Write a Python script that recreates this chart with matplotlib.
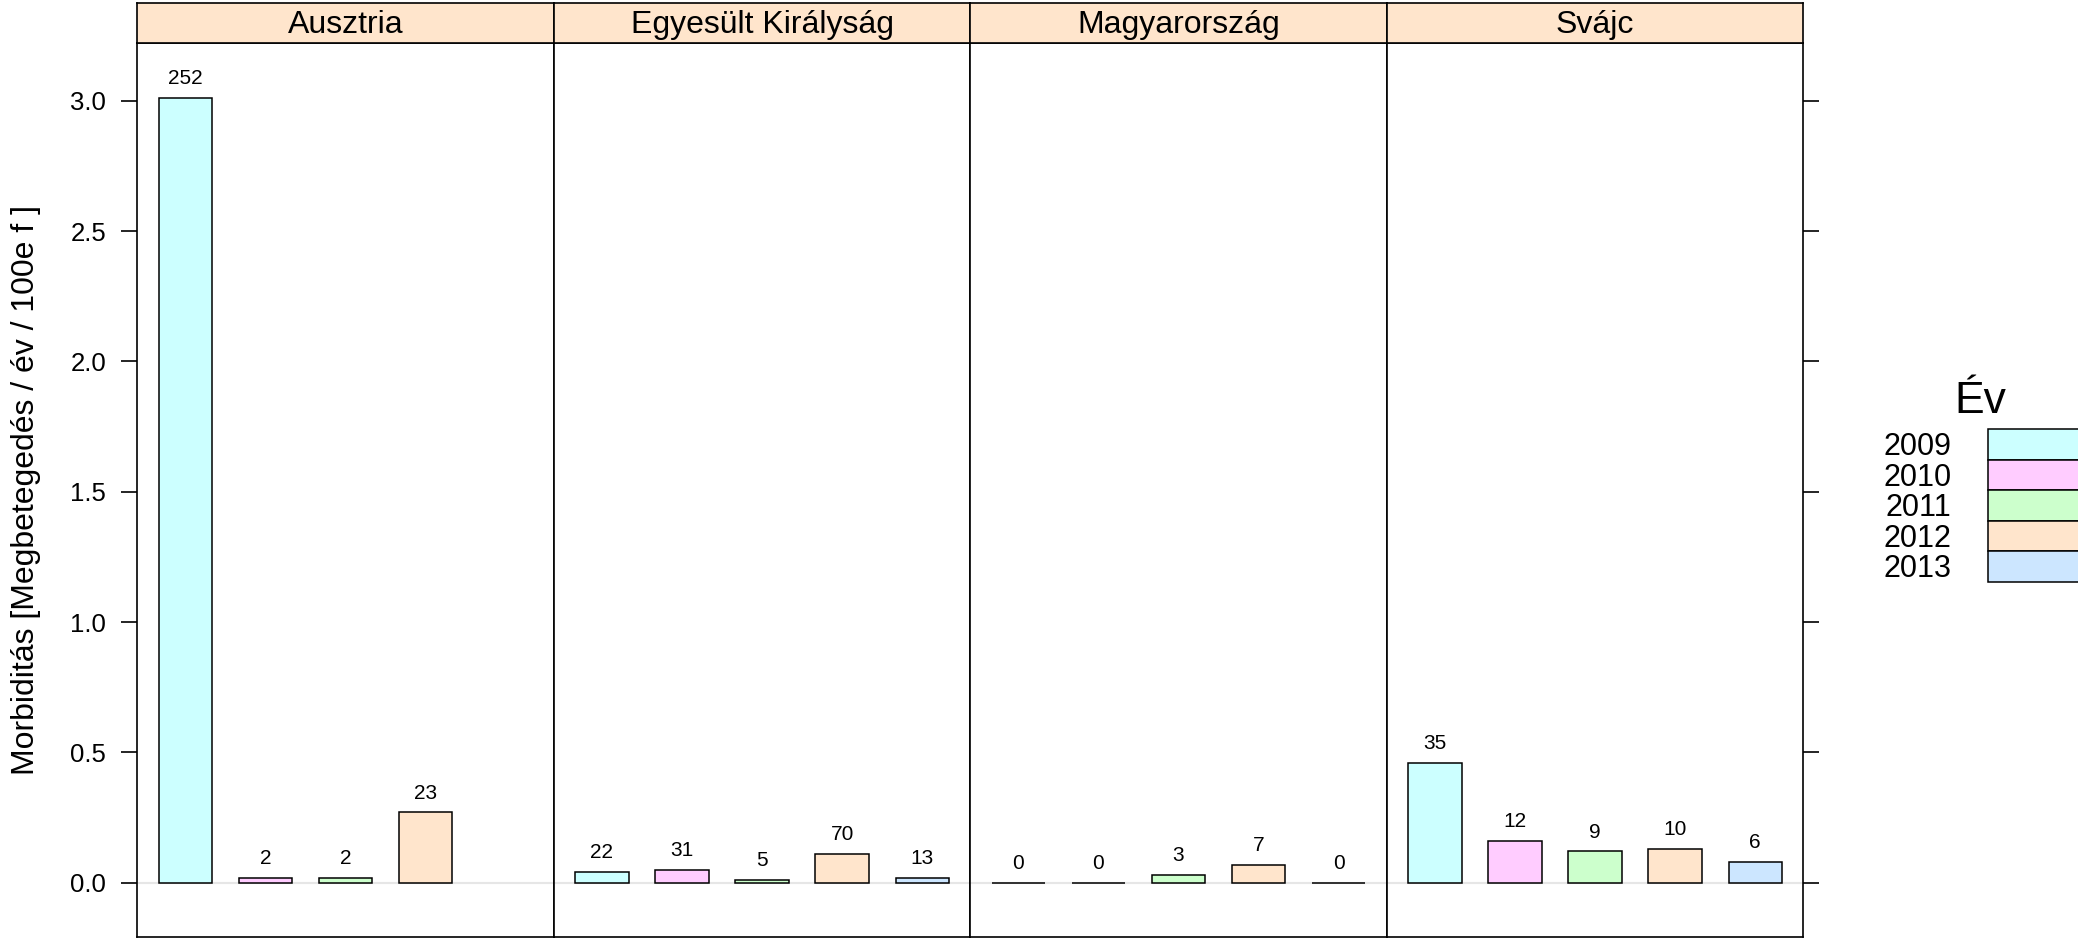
import numpy as np
import matplotlib
matplotlib.use("Agg")
import matplotlib.pyplot as plt
from matplotlib.patches import Rectangle

plt.rcParams['font.family'] = ['Liberation Sans', 'DejaVu Sans']

# adatok
countries = ["Ausztria", "Egyesült Királyság", "Magyarország", "Svájc"]
years = ["2009", "2010", "2011", "2012", "2013"]
morbidity = {
    "Ausztria":           [3.01, 0.02, 0.02, 0.27, np.nan],
    "Egyesült Királyság": [0.04, 0.05, 0.01, 0.11, 0.02],
    "Magyarország":       [0.00, 0.00, 0.03, 0.07, 0.00],
    "Svájc":              [0.46, 0.16, 0.12, 0.13, 0.08],
}
cases = {
    "Ausztria":           [252, 2, 2, 23, None],
    "Egyesült Királyság": [22, 31, 5, 70, 13],
    "Magyarország":       [0, 0, 3, 7, 0],
    "Svájc":              [35, 12, 9, 10, 6],
}
year_colors = ["#CCFFFF", "#FFCCFF", "#CCFFCC", "#FFE5CC", "#CCE6FF"]
strip_color = "#FFE5CC"
ylabel = "Morbiditás [Megbetegedés / év / 100e f ]"

W, H = 2078, 938
fig = plt.figure(figsize=(W / 100, H / 100), dpi=100)

left_px, panel_w = 137.3, 416.5
top_px, bottom_px, strip_top = 42.7, 937.0, 3.3
ylim = (-0.208, 3.2225)
x = np.arange(1, len(years) + 1)

for i, country in enumerate(countries):
    x0 = (left_px + i * panel_w) / W
    ax = fig.add_axes([x0, 1 - bottom_px / H, panel_w / W, (bottom_px - top_px) / H])
    ax.axhline(0, color="#E6E6E6", lw=1.5, zorder=0)
    vals = np.array(morbidity[country], dtype=float)
    ok = ~np.isnan(vals)
    ax.bar(x[ok], vals[ok], width=2 / 3, color=np.array(year_colors)[ok],
           edgecolor="black", linewidth=1.1, zorder=2)
    for xi, v, n in zip(x, vals, cases[country]):
        if n is None:
            continue
        ax.annotate(str(n), (xi, v), xytext=(0, 10), textcoords="offset points",
                    ha="center", va="baseline", fontsize=15)
    ax.set_xlim(0.4, 5.6)
    ax.set_ylim(*ylim)
    ax.set_xticks([])
    ax.set_yticks([0, 0.5, 1.0, 1.5, 2.0, 2.5, 3.0])
    ax.tick_params(axis="y", direction="out", length=11.5, width=1.2, pad=11,
                   labelsize=18.5, left=(i == 0), labelleft=(i == 0),
                   right=(i == len(countries) - 1), labelright=False)
    ax.yaxis.set_major_formatter(plt.FuncFormatter(lambda v, p: f"{v:.1f}"))
    for s in ax.spines.values():
        s.set_linewidth(1.2)

    # strip
    sax = fig.add_axes([x0, 1 - top_px / H, panel_w / W, (top_px - strip_top) / H])
    sax.set_facecolor(strip_color)
    sax.set_xticks([])
    sax.set_yticks([])
    for s in sax.spines.values():
        s.set_linewidth(1.2)
    sax.text(0.5, 0.45, country, ha="center", va="center", fontsize=23,
             transform=sax.transAxes)

fig.text(26.5 / W, 1 - (top_px + bottom_px) / 2 / H, ylabel, rotation=90,
         ha="center", va="center", fontsize=23)

# legend
fig.text(1980.8 / W, 1 - 412.7 / H, "Év", ha="center", va="baseline", fontsize=32)
row_h, row_top = 30.5, 429.4
for j, (yr, c) in enumerate(zip(years, year_colors)):
    y_top = row_top + j * row_h
    fig.patches.append(Rectangle((1988 / W, 1 - (y_top + row_h) / H), 120 / W, row_h / H,
                                 transform=fig.transFigure, facecolor=c,
                                 edgecolor="black", linewidth=1.1))
    fig.text(1951.7 / W, 1 - (y_top + row_h / 2 + 2.5) / H, yr, ha="right", va="center",
             fontsize=22)

fig.savefig("out.png", dpi=100)
